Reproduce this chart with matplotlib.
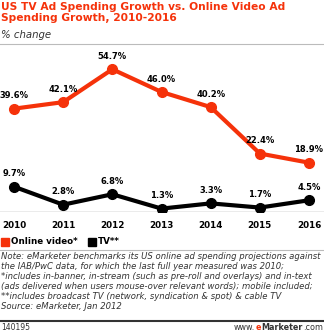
import matplotlib
matplotlib.use("Agg")
import matplotlib.pyplot as plt
from matplotlib.lines import Line2D

years = [2010, 2011, 2012, 2013, 2014, 2015, 2016]
online_video = [39.6, 42.1, 54.7, 46.0, 40.2, 22.4, 18.9]
tv = [9.7, 2.8, 6.8, 1.3, 3.3, 1.7, 4.5]

red = "#f5320a"
W, H = 324, 332

fig = plt.figure(figsize=(W / 100, H / 100), dpi=100)
fig.patch.set_facecolor("white")

def px(x, y):
    return x / W, 1 - y / H

# plot area: y from 45 to 212 px
ax = fig.add_axes([0, 1 - 212 / H, 1, (212 - 45) / H])
ax.set_xlim(2010 - 14 / 49.2, 2016 + 15 / 49.2)
ax.set_ylim(0, 64)
ax.axis("off")
ax.axhline(0, color="#999999", lw=1)

ax.plot(years, online_video, color=red, lw=3, marker="o", ms=7, zorder=3)
ax.plot(years, tv, color="black", lw=3, marker="o", ms=7, zorder=3)

for x, v in zip(years, online_video):
    ax.annotate(f"{v:.1f}%", (x, v), xytext=(0, 6), textcoords="offset points",
                ha="center", va="bottom", fontsize=6, fontweight="bold")
for x, v in zip(years, tv):
    ax.annotate(f"{v:.1f}%", (x, v), xytext=(0, 6), textcoords="offset points",
                ha="center", va="bottom", fontsize=6, fontweight="bold")

# year labels
for x in years:
    xf = ax.transData.transform((x, 0))[0] / W
    fig.text(xf, 1 - 225 / H, str(x), ha="center", va="center",
             fontsize=6.3, fontweight="bold")

# title
fig.text(*px(1, 2), "US TV Ad Spending Growth vs. Online Video Ad\nSpending Growth, 2010-2016",
         color=red, fontsize=7.7, fontweight="bold", va="top", ha="left", linespacing=1.1)
fig.text(*px(1, 30), "% change", fontsize=7.3, style="italic", va="top", color="#333333")
fig.add_artist(Line2D([0, 1], [1 - 44 / H] * 2, color="#bbbbbb", lw=0.8))

# legend
fig.add_artist(plt.Rectangle(px(1, 246), 8 / W, 8 / H, color=red))
fig.text(*px(11, 242), "Online video*", fontsize=6.3, fontweight="bold", va="center")
fig.add_artist(plt.Rectangle(px(88, 246), 8 / W, 8 / H, color="black"))
fig.text(*px(98, 242), "TV**", fontsize=6.3, fontweight="bold", va="center")

fig.add_artist(Line2D([0, 1], [1 - 250 / H] * 2, color="#bbbbbb", lw=0.8))
note = ("Note: eMarketer benchmarks its US online ad spending projections against\n"
        "the IAB/PwC data, for which the last full year measured was 2010;\n"
        "*includes in-banner, in-stream (such as pre-roll and overlays) and in-text\n"
        "(ads delivered when users mouse-over relevant words); mobile included;\n"
        "**includes broadcast TV (network, syndication & spot) & cable TV\n"
        "Source: eMarketer, Jan 2012")
fig.text(*px(1, 252), note, fontsize=6.1, style="italic", va="top", color="#333333",
         linespacing=1.15)
fig.add_artist(Line2D([0, 1], [1 - 321 / H] * 2, color="#333333", lw=1.5))
fig.text(*px(1, 327), "140195", fontsize=5.5, va="center", color="#333333")

# footer brand, built right to left
r = fig.canvas.get_renderer()
xr = 323
for s, c, w in [(".com", "#333333", "normal"), ("Marketer", "#333333", "bold"),
                ("e", red, "bold"), ("www.", "#333333", "normal")]:
    t = fig.text(*px(xr, 327), s, fontsize=5.8, va="center", ha="right",
                 color=c, fontweight=w)
    xr -= t.get_window_extent(r).width + 0.3

fig.savefig("out.png", dpi=100)
